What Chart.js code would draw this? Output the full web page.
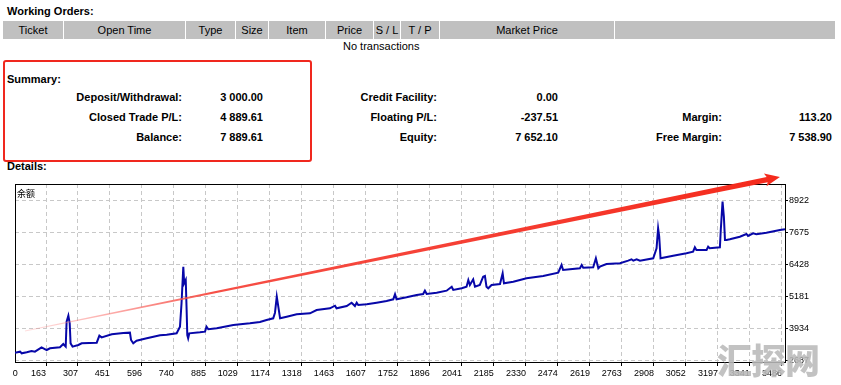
<!DOCTYPE html>
<html>
<head>
<meta charset="utf-8">
<title>Summary</title>
<script src="https://cdn.jsdelivr.net/npm/chart.js@4.4.1/dist/chart.umd.min.js"></script>
<style>
  html, body { margin: 0; padding: 0; background: #fff; }
  body { width: 841px; height: 385px; position: relative; overflow: hidden;
         font-family: 'Liberation Sans', Arial, sans-serif; font-size: 11px; color: #000; }
  .t { position: absolute; white-space: nowrap; line-height: 13px; }
  .b { font-weight: bold; }
  .r { text-align: right; }
  .hdr { position: absolute; top: 21px; height: 18px; line-height: 18px; background: #c0c0c0; text-align: center; white-space: nowrap; }
  #box { position: absolute; left: 3px; top: 60px; width: 305px; height: 98px; border: 2px solid #f0281e; border-radius: 3px; }
  #wrap { position: absolute; left: 0; top: 172px; width: 841px; height: 213px; }
  #series { position: absolute; left: 17px; top: 188px; font: 9px/11px 'Noto Sans CJK SC'; }
  #mark { position: absolute; left: 717px; top: 341px; font: 900 35px/35px 'Noto Sans CJK SC'; color: rgba(185,185,185,0.88); letter-spacing: -1px; }
</style>
</head>
<body>
<div class="t b" style="left:7px;top:5px">Working Orders:</div>

<div class="hdr" style="left:3px;width:60px">Ticket</div>
<div class="hdr" style="left:64px;width:121px">Open Time</div>
<div class="hdr" style="left:186px;width:49px">Type</div>
<div class="hdr" style="left:236px;width:32px">Size</div>
<div class="hdr" style="left:269px;width:56px">Item</div>
<div class="hdr" style="left:326px;width:47px">Price</div>
<div class="hdr" style="left:374px;width:26px">S / L</div>
<div class="hdr" style="left:401px;width:38px">T / P</div>
<div class="hdr" style="left:440px;width:174px">Market Price</div>
<div class="hdr" style="left:615px;width:220px"></div>
<div class="t" style="left:343px;top:40px">No transactions</div>

<div id="box"></div>
<div class="t b" style="left:7px;top:73px">Summary:</div>

<div class="t b r" style="left:0;width:182px;top:91px">Deposit/Withdrawal:</div>
<div class="t b r" style="left:0;width:263px;top:91px">3 000.00</div>
<div class="t b r" style="left:0;width:437px;top:91px">Credit Facility:</div>
<div class="t b r" style="left:0;width:558px;top:91px">0.00</div>

<div class="t b r" style="left:0;width:182px;top:111px">Closed Trade P/L:</div>
<div class="t b r" style="left:0;width:263px;top:111px">4 889.61</div>
<div class="t b r" style="left:0;width:437px;top:111px">Floating P/L:</div>
<div class="t b r" style="left:0;width:558px;top:111px">-237.51</div>
<div class="t b r" style="left:0;width:722px;top:111px">Margin:</div>
<div class="t b r" style="left:0;width:832px;top:111px">113.20</div>

<div class="t b r" style="left:0;width:182px;top:131px">Balance:</div>
<div class="t b r" style="left:0;width:263px;top:131px">7 889.61</div>
<div class="t b r" style="left:0;width:437px;top:131px">Equity:</div>
<div class="t b r" style="left:0;width:558px;top:131px">7 652.10</div>
<div class="t b r" style="left:0;width:722px;top:131px">Free Margin:</div>
<div class="t b r" style="left:0;width:832px;top:131px">7 538.90</div>

<div class="t b" style="left:7px;top:160px">Details:</div>

<div id="wrap"><canvas id="chart" width="841" height="213" style="width:841px;height:213px"></canvas></div>
<div id="series">余额</div>
<div id="mark">汇探网</div>

<script>
// axis ticks (trade number / balance)
const xTicks = [163, 307, 451, 596, 740, 885, 1029, 1174, 1318, 1463, 1607, 1752,
  1896, 2041, 2185, 2330, 2474, 2619, 2763, 2908, 3052, 3197, 3341, 3486];
const yTicks = [2687, 3934, 5181, 6428, 7675, 8922];

// balance curve
const balanceX = [0, 46, 53, 76, 98, 113, 143, 166, 181, 226,
  241, 252, 256, 264, 270, 274, 283, 309, 324, 392,
  404, 414, 460, 512, 542, 547, 557, 572, 618, 678,
  708, 753, 768, 775, 783, 787, 794, 798, 801, 805,
  810, 858, 881, 888, 896, 934, 1009, 1084, 1129, 1159,
  1189, 1197, 1205, 1212, 1220, 1250, 1295, 1310, 1355, 1385,
  1445, 1468, 1475, 1521, 1543, 1558, 1566, 1573, 1611, 1656,
  1701, 1731, 1739, 1746, 1791, 1837, 1866, 1874, 1882, 1927,
  1972, 1995, 2002, 2040, 2062, 2070, 2077, 2092, 2100, 2122,
  2137, 2145, 2152, 2160, 2175, 2213, 2225, 2231, 2273, 2333,
  2408, 2476, 2491, 2498, 2529, 2574, 2582, 2589, 2634, 2646,
  2657, 2664, 2694, 2755, 2792, 2807, 2815, 2830, 2845, 2905,
  2920, 2927, 2932, 2938, 2995, 3055, 3085, 3093, 3100, 3146,
  3153, 3160, 3206, 3210, 3218, 3224, 3229, 3236, 3251, 3296,
  3326, 3333, 3356, 3371, 3416, 3477, 3500];
const balanceY = [2960, 3050, 2987, 3026, 3077, 3050, 3220, 3115, 3181, 3220,
  3349, 3246, 4218, 4453, 4155, 3375, 3246, 3310, 3375, 3401,
  3675, 3609, 3726, 3778, 3791, 3505, 3375, 3478, 3571, 3688,
  3714, 3766, 4024, 4935, 6362, 5715, 5843, 4674, 3700, 3571,
  3766, 3805, 3830, 4024, 3922, 3961, 4090, 4155, 4207, 4285,
  4351, 4569, 5193, 4803, 4351, 4413, 4507, 4518, 4545, 4674,
  4741, 4842, 4741, 4830, 4959, 4830, 4959, 4869, 4897, 4959,
  5025, 5091, 5286, 5091, 5169, 5259, 5298, 5427, 5298, 5349,
  5427, 5582, 5454, 5520, 5582, 5843, 5649, 5871, 5582, 5649,
  5972, 5999, 5582, 5520, 5649, 5688, 6104, 5715, 5777, 5910,
  5999, 6128, 6428, 6233, 6260, 6299, 6428, 6323, 6338, 6689,
  6299, 6362, 6467, 6494, 6596, 6650, 6596, 6650, 6596, 6689,
  7079, 7858, 7531, 6689, 6790, 6884, 6946, 7118, 7012, 7012,
  7141, 7079, 7118, 7792, 8895, 8310, 7402, 7402, 7429, 7531,
  7636, 7558, 7663, 7624, 7687, 7792, 7819];

// hand-drawn trend arrow, in data units
const arrowFrom = [68, 3856];
const arrowTo = [3477, 9857];

const fontSmall = { family: "'Liberation Sans', Arial, sans-serif", size: 9 };

// black frame round the plot
const frame = {
  id: 'frame',
  beforeDatasetsDraw(chart) {
    const { ctx, chartArea: a } = chart;
    ctx.save();
    ctx.strokeStyle = '#000';
    ctx.lineWidth = 1;
    ctx.strokeRect(a.left + 0.5, a.top + 0.5, a.right - a.left, a.bottom - a.top - 1);
    ctx.restore();
  }
};

// tapered red arrow
const arrow = {
  id: 'arrow',
  afterDatasetsDraw(chart) {
    const { ctx, scales: { x, y } } = chart;
    const x0 = x.getPixelForValue(arrowFrom[0]), y0 = y.getPixelForValue(arrowFrom[1]);
    const x1 = x.getPixelForValue(arrowTo[0]), y1 = y.getPixelForValue(arrowTo[1]);
    const len = Math.hypot(x1 - x0, y1 - y0);
    const ux = (x1 - x0) / len, uy = (y1 - y0) / len;
    const nx = -uy, ny = ux;
    const headLen = 13, headW = 6.5, w0 = 0.4, w1 = 2.6;
    const bx = x1 - ux * headLen, by = y1 - uy * headLen;
    const grad = ctx.createLinearGradient(x0, y0, x1, y1);
    grad.addColorStop(0, 'rgba(255,150,150,0.3)');
    grad.addColorStop(0.25, 'rgba(245,60,50,0.9)');
    grad.addColorStop(1, '#f52a1c');
    ctx.save();
    ctx.fillStyle = grad;
    ctx.beginPath();
    ctx.moveTo(x0 + nx * w0, y0 + ny * w0);
    ctx.lineTo(bx + nx * w1, by + ny * w1);
    ctx.lineTo(bx - ux * 2 + nx * headW, by - uy * 2 + ny * headW);
    ctx.lineTo(x1, y1);
    ctx.lineTo(bx - ux * 2 - nx * headW, by - uy * 2 - ny * headW);
    ctx.lineTo(bx - nx * w1, by - ny * w1);
    ctx.lineTo(x0 - nx * w0, y0 - ny * w0);
    ctx.closePath();
    ctx.fill();
    ctx.restore();
  }
};

new Chart(document.getElementById('chart'), {
  type: 'line',
  data: {
    datasets: [{
      label: '余额',
      data: balanceX.map((v, i) => ({ x: v, y: balanceY[i] })),
      borderColor: '#0707a8',
      borderWidth: 2,
      pointRadius: 0,
      tension: 0,
      fill: false,
    }],
  },
  options: {
    responsive: false,
    animation: false,
    devicePixelRatio: 1,
    layout: { padding: { left: 15, top: 12, right: 0, bottom: 0 } },
    plugins: { legend: { display: false }, tooltip: { enabled: false } },
    scales: {
      x: {
        type: 'linear',
        min: 23,
        max: 3500,
        afterBuildTicks: (s) => { s.ticks = [{ value: 36 }].concat(xTicks.map(v => ({ value: v }))); },
        afterFit: (s) => { s.height = 22; },
        grid: {
          color: (c) => c.index === 0 ? 'transparent' : '#c8c8c8',
          tickColor: (c) => c.index === 0 ? 'transparent' : '#000',
          tickLength: 3,
          tickBorderDash: [],
        },
        border: { display: false, dash: [4, 3] },
        ticks: {
          align: 'end',
          autoSkip: false,
          maxRotation: 0,
          padding: 2,
          color: '#000',
          font: fontSmall,
          callback: (v, i) => i === 0 ? '0' : String(v),
        },
      },
      y: {
        position: 'right',
        min: 2609,
        max: 9584,
        afterBuildTicks: (s) => { s.ticks = yTicks.map(v => ({ value: v })); },
        afterFit: (s) => { s.width = 56; },
        grid: { color: '#c8c8c8', tickColor: '#000', tickLength: 3, tickBorderDash: [] },
        border: { display: false, dash: [4, 3] },
        ticks: { padding: 1, color: '#000', font: fontSmall, callback: (v) => String(v) },
      },
    },
  },
  plugins: [frame, arrow],
});
</script>
</body>
</html>
